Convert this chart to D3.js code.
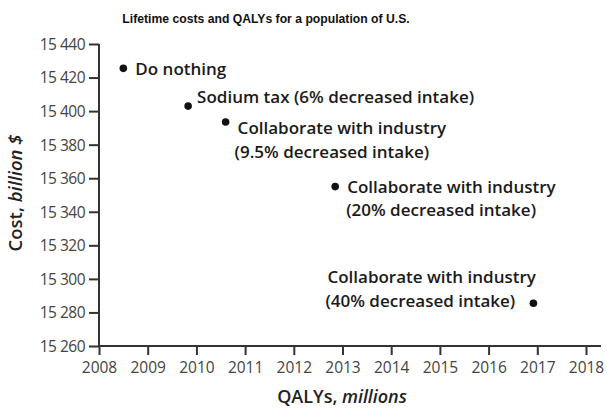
<!DOCTYPE html>
<html>
<head>
<meta charset="utf-8">
<script src="https://cdn.jsdelivr.net/npm/d3@7"></script>
<style>
  body { margin: 0; background: #fff; }
  svg { display: block; }
  .tick text { font-family: "Open Sans", sans-serif; font-size: 15.5px; fill: #444; }
</style>
</head>
<body>
<script>
var w = 607, h = 408;

// data
var strategies = ["Do nothing", "Sodium tax (6% decreased intake)",
    "Collaborate with industry|(9.5% decreased intake)",
    "Collaborate with industry|(20% decreased intake)",
    "Collaborate with industry|(40% decreased intake)"];
var qalys = [2008.5, 2009.83, 2010.6, 2012.85, 2016.92];
var costs = [15425.5, 15403, 15393.5, 15355, 15285.5];
var xTicks = [2008, 2009, 2010, 2011, 2012, 2013, 2014, 2015, 2016, 2017, 2018];
var yTicks = [15260, 15280, 15300, 15320, 15340, 15360, 15380, 15400, 15420, 15440];

// label placement relative to each dot (px)
var labelPos = [
    {dx: 12, dy: 7, indent: 0},
    {dx: 9, dy: -3, indent: 0},
    {dx: 12, dy: 12, indent: -3},
    {dx: 12, dy: 6, indent: -1},
    {dx: -206, dy: -20, indent: -2}
];

var margin = {left: 99, top: 44, right: 21, bottom: 62};

var x = d3.scaleLinear().domain([2008, 2018]).range([margin.left, 586]);
var y = d3.scaleLinear().domain([15260, 15440]).range([346, margin.top]);

var svg = d3.select("body").append("svg")
    .attr("width", w)
    .attr("height", h);

svg.append("text")
    .attr("x", 266).attr("y", 23)
    .attr("text-anchor", "middle")
    .style("font-family", "Liberation Sans, Arial, sans-serif")
    .style("font-weight", "bold")
    .style("font-size", "12.2px")
    .style("fill", "#111")
    .text("Lifetime costs and QALYs for a population of U.S.");

// axes
var xAxis = svg.append("g")
    .attr("transform", "translate(0," + y(15260) + ")")
    .call(d3.axisBottom(x).tickValues(xTicks).tickFormat(d3.format("d")).tickSize(9).tickPadding(2));
var yAxis = svg.append("g")
    .attr("transform", "translate(" + margin.left + ",0)")
    .call(d3.axisLeft(y).tickValues(yTicks).tickFormat(function(d){
        return d3.format("d")(d).replace(/^(\d\d)/, "$1 ");
    }).tickSize(10).tickPadding(4));

[xAxis, yAxis].forEach(function(g){
    g.select(".domain").attr("stroke", "#333").attr("stroke-width", 2);
    g.selectAll(".tick line").attr("stroke", "#333").attr("stroke-width", 2);
});
xAxis.select(".domain").attr("d", "M" + margin.left + ",0H" + (w - 6));
yAxis.select(".domain").attr("d", "M0," + y(15440) + "V" + y(15260));
xAxis.selectAll(".tick text").attr("dy", "1.05em");
yAxis.selectAll(".tick text").attr("dy", "0.35em").style("letter-spacing", "-0.5px");

// axis titles
var xt = svg.append("text")
    .attr("x", 342).attr("y", 403)
    .attr("text-anchor", "middle")
    .style("font-family", "Open Sans, sans-serif")
    .style("font-weight", "600")
    .style("font-size", "18px")
    .style("fill", "#222");
xt.append("tspan").text("QALYs, ");
xt.append("tspan").style("font-style", "italic").text("millions");

var yt = svg.append("text")
    .attr("transform", "translate(22," + 193 + ") rotate(-90)")
    .attr("text-anchor", "middle")
    .style("font-family", "Open Sans, sans-serif")
    .style("font-weight", "600")
    .style("font-size", "18.5px")
    .style("fill", "#222");
yt.append("tspan").text("Cost, ");
yt.append("tspan").style("font-style", "italic").text("billion $");

// points
var pts = strategies.map(function(s, i){ return {label: s, q: qalys[i], c: costs[i], pos: labelPos[i]}; });

svg.selectAll("circle.pt")
    .data(pts)
    .enter()
    .append("circle")
    .attr("class", "pt")
    .attr("cx", function(d){ return x(d.q); })
    .attr("cy", function(d){ return y(d.c); })
    .attr("r", 3.8)
    .style("fill", "#111");

var labels = svg.selectAll("text.lbl")
    .data(pts)
    .enter()
    .append("text")
    .attr("class", "lbl")
    .attr("x", function(d){ return x(d.q) + d.pos.dx; })
    .attr("y", function(d){ return y(d.c) + d.pos.dy; })
    .style("font-family", "Open Sans, sans-serif")
    .style("font-weight", "600")
    .style("font-size", "17px")
    .style("fill", "#1a1a1a");

labels.each(function(d){
    var t = d3.select(this);
    d.label.split("|").forEach(function(line, k){
        t.append("tspan")
            .attr("x", x(d.q) + d.pos.dx + (k > 0 ? d.pos.indent : 0))
            .attr("dy", k === 0 ? 0 : 23.5)
            .text(line);
    });
});
</script>
</body>
</html>
